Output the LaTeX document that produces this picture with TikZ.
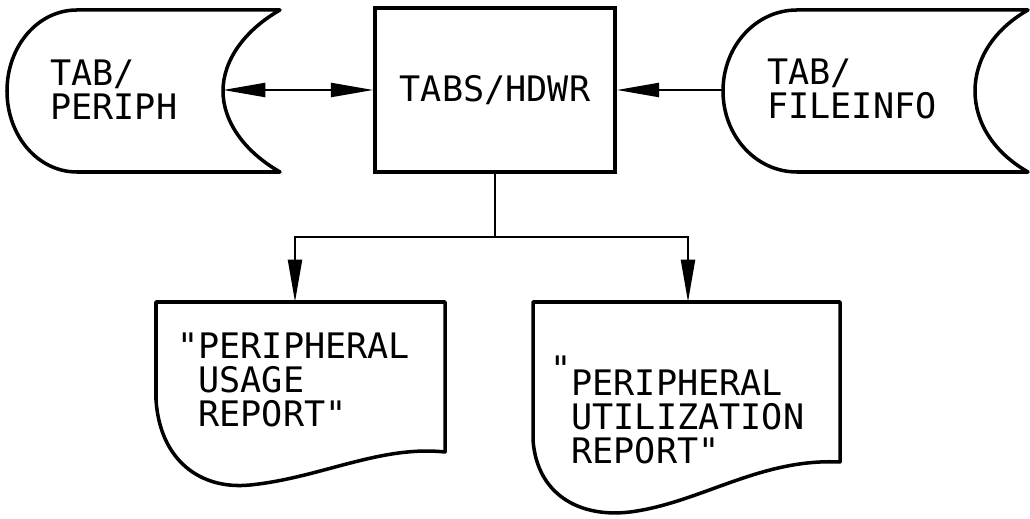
\documentclass[tikz,border=0pt]{standalone}
\usepackage{fontspec}
\newfontfamily\tabfont{DejaVu Sans Mono}
\usetikzlibrary{arrows.meta}
\tikzset{
  outline/.style={line width=2pt,line join=round},
  label/.style={font=\tabfont\fontsize{20}{19.5}\selectfont,align=left,inner sep=0pt},
  arr/.style={line width=1.4pt,-{Triangle[length=8.5mm,width=2.8mm]}},
  biarr/.style={line width=1.4pt,{Triangle[length=8.5mm,width=2.8mm]}-{Triangle[length=8.5mm,width=2.8mm]}}
}
\begin{document}
\begin{tikzpicture}[x=0.02cm,y=-0.02cm]
\useasboundingbox (0,0) rectangle (1030,519);
% stored data
\draw[outline] (77,10) -- (280,10) .. controls (245,30) and (223,60) .. (223,91) .. controls (223,122) and (245,152) .. (280,172) -- (77,172) .. controls (38,172) and (7,136) .. (7,91) .. controls (7,46) and (38,10) .. (77,10) -- cycle;
\coordinate (periph-e) at (223,90);
\node[label,anchor=west] (periph) at (50,90) {TAB/\\PERIPH};
\draw[outline] (797,10) -- (1028,10) .. controls (993,30) and (975,60) .. (975,91) .. controls (975,122) and (993,152) .. (1028,172) -- (797,172) .. controls (756,172) and (723,136) .. (723,91) .. controls (723,46) and (756,10) .. (797,10) -- cycle;
\coordinate (fileinfo-w) at (723,90);
\node[label,anchor=west] (fileinfo) at (767,89) {TAB/\\FILEINFO};
% program
\node[label,draw,line width=2pt,minimum width=4.8cm,minimum height=3.28cm] (hdwr) at (495,90) {TABS/HDWR};
% reports
\draw[outline] (156,400) -- (156,302) -- (445,302) -- (445,452) .. controls (380,445) and (320,478) .. (250,485) .. controls (200,490) and (160,460) .. (156,400) -- cycle;
\coordinate (usage-n) at (295,302);
\node[label,anchor=west] (usage) at (177,380) {"PERIPHERAL\\\hphantom{"}USAGE\\\hphantom{"}REPORT"};
\draw[outline] (533,440) -- (533,302) -- (840,302) -- (840,462) .. controls (760,458) and (700,503) .. (630,512) .. controls (580,518) and (537,495) .. (533,440) -- cycle;
\coordinate (util-n) at (688,302);
\node[label,anchor=west] (util) at (550,417) {\smash{\raisebox{8pt}{"}}PERIPHERAL\\\hphantom{"}UTILIZATION\\\hphantom{"}REPORT"};
% connectors
\draw[biarr] (periph-e) -- (hdwr.west);
\draw[arr] (fileinfo-w) -- (hdwr.east);
\draw[line width=1.4pt] (hdwr.south) -- ++(0,63) coordinate (split);
\draw[arr] (split) -| (usage-n);
\draw[arr] (split) -| (util-n);
\end{tikzpicture}
\end{document}
